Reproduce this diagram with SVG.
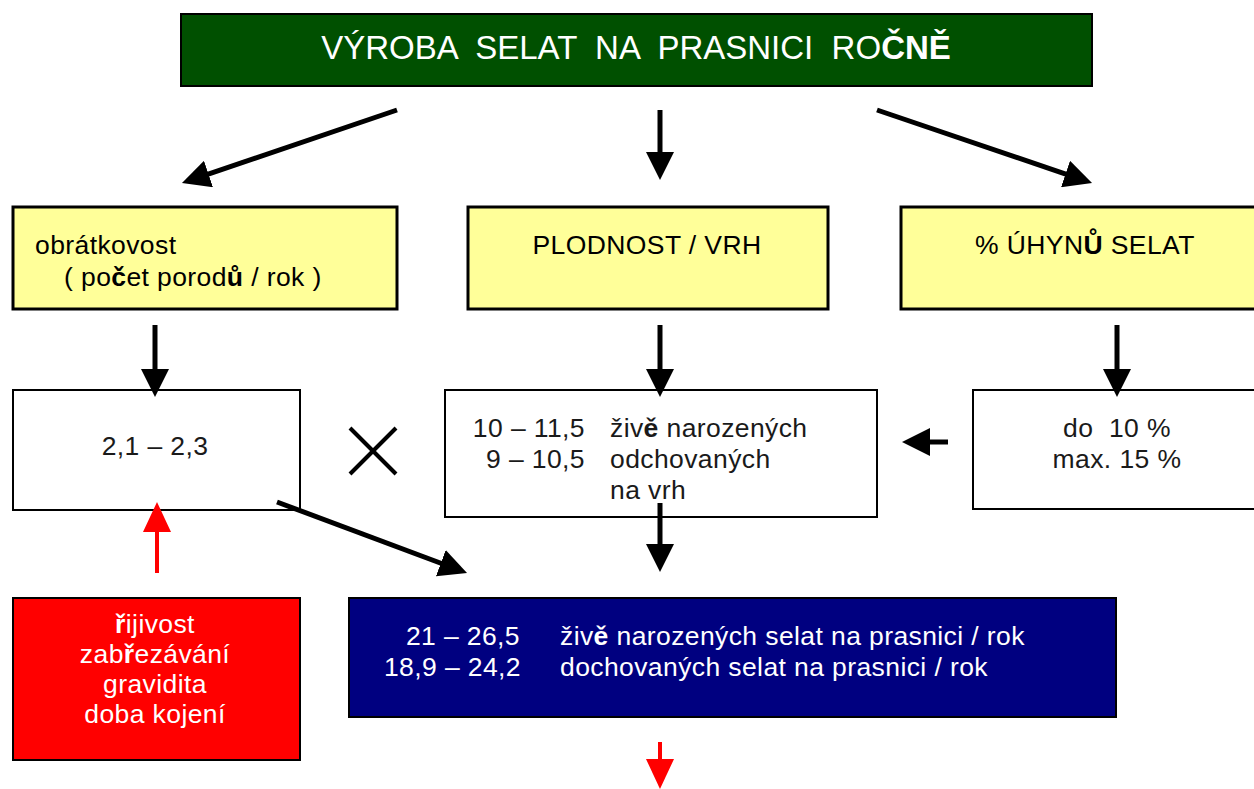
<svg xmlns="http://www.w3.org/2000/svg" width="1254" height="789" viewBox="0 0 1254 789">
<style>
text{font-family:"Liberation Sans",Arial,sans-serif;white-space:pre}
.t{font-size:26.5px;fill:#1a1a1a;letter-spacing:0.4px}
.w{font-size:26.5px;fill:#ffffff;letter-spacing:0.4px}
.ttl{font-size:33px;fill:#ffffff}
.b{font-weight:bold}
.yel{fill:#FFFF99;stroke:#000;stroke-width:3}
.wht{fill:#fff;stroke:#000;stroke-width:2}
.conn line{stroke:#000;stroke-width:5}
.conn line.red{stroke:#FF0000;stroke-width:4}
</style>
<defs>
<marker id="ah" markerUnits="userSpaceOnUse" markerWidth="28" markerHeight="28" refX="8" refY="14" orient="auto"><path d="M0,0 L28,14 L0,28 z" fill="#000"/></marker>
<marker id="ahr" markerUnits="userSpaceOnUse" markerWidth="30" markerHeight="28" refX="10" refY="14" orient="auto"><path d="M0,0 L30,14 L0,28 z" fill="#FF0000"/></marker>
</defs>
<rect width="1254" height="789" fill="#fff"/>
<g id="title">
<rect x="181" y="14" width="911" height="72" fill="#005000" stroke="#000" stroke-width="2"/>
<text class="ttl" x="636" y="59" text-anchor="middle">VÝROBA  SELAT  NA  PRASNICI  RO<tspan class="b">ČNĚ</tspan></text>
</g>
<g id="obratkovost">
<rect class="yel" x="13" y="207" width="384" height="102"/>
<text class="t" x="35" y="254" style="fill:#000">obrátkovost</text>
<text class="t" x="64" y="286" style="fill:#000">( po<tspan class="b">č</tspan>et porod<tspan class="b">ů</tspan> / rok )</text>
</g>
<g id="plodnost">
<rect class="yel" x="468" y="207" width="360" height="102"/>
<text class="t" x="647" y="254" text-anchor="middle" style="fill:#000">PLODNOST / VRH</text>
</g>
<g id="uhyn">
<rect class="yel" x="901" y="207" width="360" height="102"/>
<text class="t" x="975" y="254" style="fill:#000">% ÚHYN<tspan class="b">Ů</tspan> SELAT</text>
</g>
<g id="obrat-val">
<rect class="wht" x="13" y="390" width="287" height="120"/>
<text class="t" x="155" y="455" text-anchor="middle">2,1 – 2,3</text>
</g>
<g id="plod-val">
<rect class="wht" x="445" y="390" width="432" height="127"/>
<text class="t" x="585" y="437" text-anchor="end">10 – 11,5</text>
<text class="t" x="610" y="437">živ<tspan class="b">ě</tspan> narozených</text>
<text class="t" x="585" y="468" text-anchor="end">9 – 10,5</text>
<text class="t" x="610" y="468">odchovaných</text>
<text class="t" x="610" y="499">na vrh</text>
</g>
<g id="uhyn-val">
<rect class="wht" x="973" y="390" width="290" height="119"/>
<text class="t" x="1117" y="437" text-anchor="middle">do  10 %</text>
<text class="t" x="1117" y="468" text-anchor="middle">max. 15 %</text>
</g>
<g id="faktory">
<rect x="13" y="598" width="287" height="162" fill="#FF0000" stroke="#000" stroke-width="2"/>
<text class="w" x="155" y="633" text-anchor="middle"><tspan class="b">ř</tspan>ijivost</text>
<text class="w" x="155" y="663" text-anchor="middle">zab<tspan class="b">ř</tspan>ezávání</text>
<text class="w" x="155" y="693" text-anchor="middle">gravidita</text>
<text class="w" x="155" y="723" text-anchor="middle">doba kojení</text>
</g>
<g id="vysledek">
<rect x="349" y="598" width="767" height="119" fill="#000080" stroke="#000" stroke-width="2"/>
<text class="w" x="520" y="645" text-anchor="end">21 – 26,5</text>
<text class="w" x="560" y="645">živ<tspan class="b">ě</tspan> narozených selat na prasnici / rok</text>
<text class="w" x="521" y="676" text-anchor="end">18,9 – 24,2</text>
<text class="w" x="560" y="676">dochovaných selat na prasnici / rok</text>
</g>
<g id="connectors" class="conn">
<line x1="397" y1="110" x2="200.9" y2="176.6" marker-end="url(#ah)"/>
<line x1="660" y1="110" x2="660" y2="160" marker-end="url(#ah)"/>
<line x1="877" y1="110" x2="1073.1" y2="176.6" marker-end="url(#ah)"/>
<line x1="155" y1="325" x2="155" y2="377" marker-end="url(#ah)"/>
<line x1="660" y1="325" x2="660" y2="377" marker-end="url(#ah)"/>
<line x1="1117" y1="325" x2="1117" y2="377" marker-end="url(#ah)"/>
<line x1="948" y1="442" x2="922" y2="442" marker-end="url(#ah)"/>
<line x1="277" y1="502" x2="448.3" y2="566" marker-end="url(#ah)"/>
<line x1="660" y1="503" x2="660" y2="552" marker-end="url(#ah)"/>
<line class="red" x1="157" y1="573" x2="157" y2="522" marker-end="url(#ahr)"/>
<line class="red" x1="660" y1="742" x2="660" y2="769" marker-end="url(#ahr)"/>
<line x1="350" y1="428" x2="396" y2="474" style="stroke-width:4"/>
<line x1="396" y1="428" x2="350" y2="474" style="stroke-width:4"/>
</g>
</svg>
